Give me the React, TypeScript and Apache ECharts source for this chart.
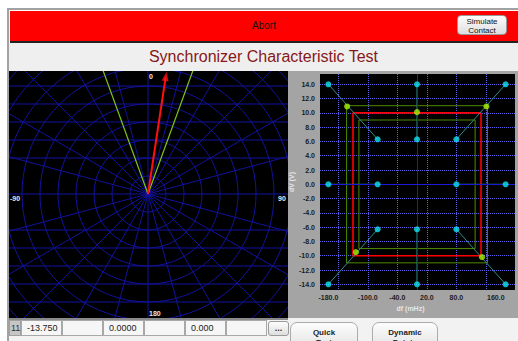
import React, { useEffect, useRef } from 'react';
import * as echarts from 'echarts';

const FONT = '"Liberation Sans", Arial, Helvetica, sans-serif';

// ---------- Synchroscope (polar) data ----------
const LIMIT_ANGLES = [-20, 20];          // degrees, phase window
const PHASOR_ANGLE = 8.6;                // degrees
const PHASOR_LENGTH = 6.85;              // ring units
const POLAR_LABELS = ['0', '90', '180', '-90'];
const RING_COUNT = 11;

// ---------- Characteristic plot data ----------
const X_GRID_TICKS = [-160, -100, -40, 20, 80, 140];
const X_LABEL_TICKS = [-180, -100, -40, 20, 80, 160];
const Y_TICKS = [-14, -12, -10, -8, -6, -4, -2, 0, 2, 4, 6, 8, 10, 12, 14];

const CYAN_POINTS = [
  [-180, 14], [0, 14], [180, 14],
  [-80, 6.3], [0, 6.3], [80, 6.3],
  [-180, 0], [-80, 0], [80, 0], [180, 0],
  [-80, -6.3], [0, -6.3], [80, -6.3],
  [-180, -14], [0, -14], [180, -14],
];
const GREEN_POINTS = [[-142, 10.9], [0, 10.1], [141, 10.9], [-124, -9.5], [132, -10.2]];
const TEAL_SEGMENTS = [
  [[-180, 14], [-80, 6.3]],
  [[0, 14], [0, 6.3]],
  [[180, 14], [80, 6.3]],
  [[-180, 0], [-80, 0]],
  [[80, 0], [180, 0]],
  [[-80, -6.3], [-180, -14]],
  [[0, -6.3], [0, -14]],
  [[80, -6.3], [180, -14]],
];
const RED_LIMIT = [[-130, 10], [130, 10], [130, -10], [-130, -10], [-130, 10]];
const OUTER_GREEN = [[-143, 11], [143, 11], [143, -11], [-143, -11], [-143, 11]];
const INNER_GREEN = [[-118, 9], [118, 9], [118, -9], [-118, -9], [-118, 9]];

const TABLE_INDEX = '11';
const TABLE_CELLS = ['-13.750', '', '0.0000', '', '0.000', ''];

const POLAR_W = 279;
const POLAR_H = 247;

function PolarChart() {
  const ref = useRef<HTMLDivElement>(null);
  useEffect(() => {
    const chart = echarts.init(ref.current!, null, { renderer: 'svg' });
    const cx = 139;
    const cy = 123;
    const outerR = 198;
    const ringPx = outerR / RING_COUNT;
    const gridBlue = '#12129e';
    const hLines: any[] = [];
    [2, 3, 4, 5, 6].forEach((k) => {
      [cy - k * ringPx, cy + k * ringPx].forEach((y) => {
        hLines.push({
          type: 'line',
          silent: true,
          z: 1,
          shape: { x1: 0, y1: y, x2: POLAR_W, y2: y },
          style: { stroke: gridBlue, lineWidth: 1 },
        });
      });
    });
    const labelPos: Record<string, [number, number]> = {
      '0': [140, 5],
      '90': [269, 127],
      '180': [140, 242],
      '-90': [1, 127],
    };
    const labels = POLAR_LABELS.map((t) => ({
      type: 'text',
      silent: true,
      z: 10,
      x: labelPos[t][0],
      y: labelPos[t][1],
      style: {
        text: t,
        fill: '#e8e8e8',
        font: `bold 7px ${FONT}`,
        textAlign: 'left',
        textVerticalAlign: 'middle',
      },
    }));
    chart.setOption({
      animation: false,
      backgroundColor: '#000',
      textStyle: { fontFamily: FONT },
      polar: { center: [cx, cy], radius: [0, outerR] },
      angleAxis: {
        type: 'value',
        min: -180,
        max: 180,
        interval: 15,
        startAngle: 270,
        clockwise: true,
        axisLine: { show: false },
        axisTick: { show: false },
        axisLabel: { show: false },
        splitLine: { show: true, lineStyle: { color: gridBlue, width: 1 } },
      },
      radiusAxis: {
        type: 'value',
        min: 0,
        max: RING_COUNT,
        interval: 1,
        axisLine: { show: false },
        axisTick: { show: false },
        axisLabel: { show: false },
        splitLine: { show: true, lineStyle: { color: gridBlue, width: 1 } },
      },
      graphic: [...hLines, ...labels],
      series: [
        ...LIMIT_ANGLES.map((a) => ({
          type: 'line',
          coordinateSystem: 'polar',
          symbol: 'none',
          silent: true,
          z: 3,
          lineStyle: { color: '#7fc41a', width: 1.2 },
          data: [[0, a], [RING_COUNT, a]],
        })),
        {
          type: 'line',
          coordinateSystem: 'polar',
          symbol: 'none',
          silent: true,
          z: 4,
          lineStyle: { color: '#ff1010', width: 2 },
          data: [[0, PHASOR_ANGLE], [PHASOR_LENGTH - 0.3, PHASOR_ANGLE]],
        },
        {
          type: 'scatter',
          coordinateSystem: 'polar',
          silent: true,
          z: 5,
          symbol: 'triangle',
          symbolSize: [7, 9],
          symbolRotate: -PHASOR_ANGLE,
          itemStyle: { color: '#ff1010' },
          data: [[PHASOR_LENGTH - 0.25, PHASOR_ANGLE]],
        },
      ],
    });
    return () => chart.dispose();
  }, []);
  return (
    <div
      ref={ref}
      style={{ position: 'absolute', left: 9, top: 71, width: POLAR_W, height: POLAR_H }}
    />
  );
}

function CharacteristicChart() {
  const ref = useRef<HTMLDivElement>(null);
  useEffect(() => {
    const chart = echarts.init(ref.current!, null, { renderer: 'svg' });
    const fmt = (v: number) => v.toFixed(1);
    const gridDot = { color: '#5c5ce6', type: 'dotted', width: 1 };
    const lineS = (data: number[][], color: string, width: number, z: number) => ({
      type: 'line',
      data,
      symbol: 'none',
      silent: true,
      z,
      lineStyle: { color, width },
    });
    chart.setOption({
      animation: false,
      textStyle: { fontFamily: FONT },
      grid: {
        left: 32,
        top: 3,
        right: 3,
        bottom: 28,
        show: true,
        backgroundColor: '#000',
        borderWidth: 0,
        outerBoundsMode: 'none',
      },
      xAxis: {
        type: 'value',
        min: -197,
        max: 199,
        axisLine: { show: false, onZero: false },
        axisTick: { show: false, customValues: X_GRID_TICKS },
        axisLabel: {
          customValues: X_LABEL_TICKS,
          formatter: fmt,
          color: '#1c1c1c',
          fontSize: 7,
          fontWeight: 'bold',
          margin: 4,
        },
        splitLine: { show: true, lineStyle: gridDot },
        name: 'df (mHz)',
        nameLocation: 'middle',
        nameGap: 15,
        nameMoveOverlap: false,
        nameTextStyle: { color: '#e6e6e6', fontSize: 7, fontWeight: 'bold', padding: [0, 14, 0, 0] },
      },
      yAxis: {
        type: 'value',
        min: -14.8,
        max: 15.44,
        axisLine: { show: false, onZero: false },
        axisTick: { show: false, customValues: Y_TICKS },
        axisLabel: {
          customValues: Y_TICKS,
          formatter: fmt,
          color: '#1c1c1c',
          fontSize: 7,
          fontWeight: 'bold',
          margin: 5,
        },
        splitLine: { show: true, lineStyle: gridDot },
        name: 'dV (V)',
        nameLocation: 'middle',
        nameGap: 25,
        nameMoveOverlap: false,
        nameTextStyle: { color: '#e6e6e6', fontSize: 7, fontWeight: 'bold' },
      },
      series: [
        {
          ...lineS(OUTER_GREEN, '#4f8a00', 1, 2),
          markLine: {
            silent: true,
            symbol: ['none', 'none'],
            label: { show: false },
            lineStyle: { color: '#1a1ad8', type: 'solid', width: 1 },
            data: [{ xAxis: 0 }, { yAxis: 0 }],
          },
        },
        lineS(INNER_GREEN, '#4f8a00', 1, 2),
        lineS(RED_LIMIT, '#ff0000', 1.6, 3),
        ...TEAL_SEGMENTS.map((seg) => lineS(seg, '#2d8c8c', 1, 4)),
        {
          type: 'scatter',
          data: CYAN_POINTS,
          symbolSize: 6,
          silent: true,
          z: 6,
          itemStyle: { color: '#12e4f2' },
        },
        {
          type: 'scatter',
          data: GREEN_POINTS,
          symbolSize: 6,
          silent: true,
          z: 7,
          itemStyle: { color: '#a8f000' },
        },
      ],
    });
    return () => chart.dispose();
  }, []);
  return (
    <div
      ref={ref}
      style={{ position: 'absolute', left: 288, top: 71, width: 230, height: 247, background: '#a4a4a4' }}
    />
  );
}

const btnBg = 'linear-gradient(#fdfdfd, #dedede)';

export default function App() {
  const abs = (s: React.CSSProperties): React.CSSProperties => ({ position: 'absolute', ...s });
  return (
    <div
      style={{
        position: 'fixed',
        left: 0,
        top: 0,
        width: 518,
        height: 341,
        overflow: 'hidden',
        background: '#ffffff',
        fontFamily: FONT,
      }}
    >
      {/* frame */}
      <div style={abs({ left: 7, top: 8, width: 511, height: 2, background: '#a2a2a2' })} />
      <div style={abs({ left: 7, top: 8, width: 2, height: 333, background: '#a2a2a2' })} />
      {/* red abort bar */}
      <div
        style={abs({
          left: 10,
          top: 11,
          width: 508,
          height: 30,
          background: '#ff0000',
          color: '#111',
          fontSize: 10,
          lineHeight: '30px',
          textAlign: 'center',
        })}
      >
        Abort
      </div>
      <div
        style={abs({
          left: 457,
          top: 15,
          width: 50,
          height: 20,
          boxSizing: 'border-box',
          border: '1px solid #9a9a9a',
          borderRadius: 4,
          background: btnBg,
          fontSize: 8,
          lineHeight: '9px',
          textAlign: 'center',
          paddingTop: 1,
          color: '#111',
        })}
      >
        Simulate
        <br />
        Contact
      </div>
      <div style={abs({ left: 10, top: 41, width: 508, height: 2, background: '#222' })} />
      {/* title */}
      <div
        style={abs({
          left: 9,
          top: 43,
          width: 509,
          height: 28,
          background: '#efefef',
          color: '#861818',
          fontSize: 16,
          lineHeight: '28px',
          textAlign: 'center',
        })}
      >
        Synchronizer Characteristic Test
      </div>
      <PolarChart />
      <CharacteristicChart />
      {/* bottom strip */}
      <div style={abs({ left: 9, top: 318, width: 509, height: 23, background: '#f2f2f2' })} />
      <div style={abs({ left: 9, top: 318, width: 279, height: 2, background: '#8a8a8a' })} />
      <div
        style={abs({
          left: 9,
          top: 320,
          width: 12,
          height: 16,
          boxSizing: 'border-box',
          background: '#c6c6c6',
          border: '1px solid #a0a0a0',
          fontSize: 9,
          lineHeight: '14px',
          color: '#333',
          paddingLeft: 1,
        })}
      >
        {TABLE_INDEX}
      </div>
      {TABLE_CELLS.map((t, i) => (
        <div
          key={i}
          style={abs({
            left: 21 + i * 41,
            top: 320,
            width: 41,
            height: 16,
            boxSizing: 'border-box',
            background: '#f6f6f6',
            border: '1px solid #a8a8a8',
            fontSize: 9,
            lineHeight: '14px',
            color: '#222',
            paddingLeft: 5,
          })}
        >
          {t}
        </div>
      ))}
      <div
        style={abs({
          left: 268,
          top: 321,
          width: 21,
          height: 15,
          boxSizing: 'border-box',
          border: '1px solid #9a9a9a',
          borderRadius: 3,
          background: btnBg,
          fontSize: 9,
          fontWeight: 'bold',
          lineHeight: '13px',
          textAlign: 'center',
          color: '#333',
        })}
      >
        ...
      </div>
      {[
        { left: 290, width: 68, l1: 'Quick', l2: 'Test' },
        { left: 372, width: 66, l1: 'Dynamic', l2: 'Points' },
      ].map((b) => (
        <div
          key={b.l1}
          style={abs({
            left: b.left,
            top: 322,
            width: b.width,
            height: 32,
            boxSizing: 'border-box',
            border: '1px solid #acacac',
            borderRadius: 7,
            background: btnBg,
            fontSize: 8,
            fontWeight: 'bold',
            lineHeight: '10px',
            textAlign: 'center',
            paddingTop: 5,
            color: '#222',
          })}
        >
          {b.l1}
          <br />
          {b.l2}
        </div>
      ))}
    </div>
  );
}
